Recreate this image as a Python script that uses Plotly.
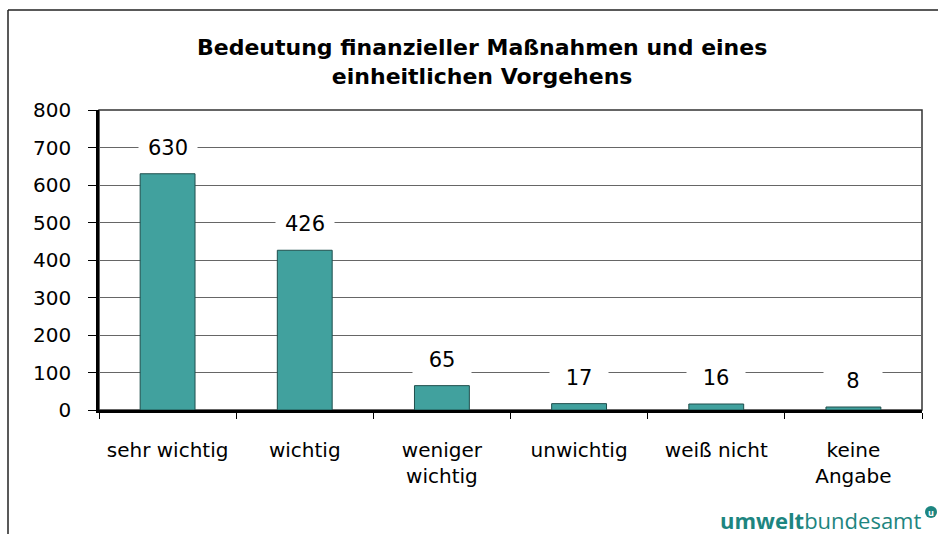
import plotly.graph_objects as go

categories = ["sehr wichtig", "wichtig", "weniger<br>wichtig", "unwichtig", "weiß nicht", "keine<br>Angabe"]
values = [630, 426, 65, 17, 16, 8]
y_ticks = [0, 100, 200, 300, 400, 500, 600, 700, 800]

W, H = 938, 534
L, R, T, B = 99, 16, 110, 124
FONT = "DejaVu Sans, Liberation Sans, Arial"

fig = go.Figure()
fig.add_trace(go.Bar(
    x=categories, y=values, width=0.4,
    marker=dict(color="#41A19E", line=dict(color="#1f4f4d", width=1)),
    hoverinfo="skip",
))

for c, v in zip(categories, values):
    fig.add_annotation(x=c, y=v, xref="x", yref="y", text=str(v), showarrow=False,
                       xanchor="center", yanchor="bottom", yshift=9, bgcolor="white", width=50, borderpad=4,
                       font=dict(family=FONT, size=21, color="black"))

fig.update_layout(
    width=W, height=H,
    margin=dict(l=L, r=R, t=T, b=B),
    paper_bgcolor="white", plot_bgcolor="white",
    showlegend=False,
    font=dict(family=FONT, size=20, color="black"),
    bargap=0.6,
)
fig.update_xaxes(
    showline=True, linecolor="black", linewidth=2.5,
    ticks="outside", tickson="boundaries", ticklen=6, tickcolor="black", tickwidth=1,
    ticklabelstandoff=20,
    showgrid=False, tickfont=dict(size=20), fixedrange=True,
)
fig.update_yaxes(
    range=[0, 800], tickvals=y_ticks, ticktext=[str(t) for t in y_ticks],
    showline=True, linecolor="black", linewidth=2.5,
    ticks="outside", ticklen=8, tickcolor="black", tickwidth=1,
    ticklabelstandoff=13,
    showgrid=True, gridcolor="#666666", gridwidth=1,
    tickfont=dict(size=20), zeroline=False, fixedrange=True,
)

# plot area border (top & right)
fig.add_shape(type="rect", xref="paper", yref="paper", x0=0, x1=1, y0=0, y1=1,
              line=dict(color="#333333", width=1.5), layer="below")

def px2x(px):
    return (px - L) / (W - L - R)

def py2y(py):
    return (H - B - py) / (H - T - B)

# outer frame lines
fig.add_shape(type="line", xref="paper", yref="paper", x0=px2x(8), x1=px2x(940), y0=py2y(10), y1=py2y(10),
              line=dict(color="#222222", width=1.5))
fig.add_shape(type="line", xref="paper", yref="paper", x0=px2x(8), x1=px2x(8), y0=py2y(10), y1=py2y(540),
              line=dict(color="#222222", width=1.5))

# title
fig.add_annotation(xref="paper", yref="paper", x=px2x(482), y=py2y(62), showarrow=False,
                   xanchor="center", yanchor="middle",
                   text="<b>Bedeutung finanzieller Maßnahmen und eines<br>einheitlichen Vorgehens</b>",
                   font=dict(family=FONT, size=22, color="black"), align="center")

# logo
fig.add_annotation(xref="paper", yref="paper", x=px2x(923), y=py2y(520), xanchor="right", yanchor="middle",
                   showarrow=False,
                   text="<b>umwelt</b>bundesamt",
                   font=dict(family="Open Sans, Noto Sans", size=22, color="#1d8580"))
fig.add_shape(type="circle", xref="paper", yref="paper",
              x0=px2x(925), x1=px2x(937), y0=py2y(518), y1=py2y(506),
              fillcolor="#1d8580", line=dict(color="#1d8580", width=0))
fig.add_annotation(xref="paper", yref="paper", x=px2x(931), y=py2y(512), xanchor="center", yanchor="middle",
                   showarrow=False,
                   text="<b>u</b>", font=dict(family="Open Sans", size=9, color="white"))

fig.write_html("out.html", config={"displayModeBar": False},
               post_script="document.body.style.margin='0';document.body.style.padding='0';")
